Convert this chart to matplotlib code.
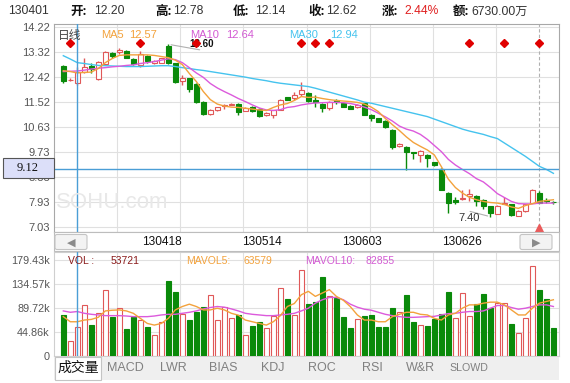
import matplotlib
matplotlib.use('Agg')
import matplotlib.pyplot as plt
import matplotlib.patches as mpatches
import matplotlib.transforms as mtransforms
import numpy as np

plt.rcParams['font.family'] = ['Liberation Sans', 'Noto Sans CJK SC', 'DejaVu Sans']

# ---------------- data ----------------
opens = [12.83, 12.30, 12.20, 12.60, 12.83, 12.34, 12.90, 13.28, 13.33, 13.36,
         13.08, 12.86, 13.18, 12.92, 12.94, 13.55, 12.92, 12.29, 12.38, 12.18,
         11.54, 11.09, 11.22, 11.38, 11.43, 11.47, 11.21, 11.35, 11.28, 11.06,
         11.04, 11.24, 11.70, 11.66, 11.80, 11.84, 11.60, 11.46, 11.30, 11.60,
         11.50, 11.39, 11.33, 11.48, 11.07, 10.94, 10.85, 10.52, 9.95, 9.91,
         9.72, 9.63, 9.63, 9.36, 9.12, 8.27, 8.01, 8.03, 8.13, 8.15,
         8.01, 7.77, 7.50, 7.86, 7.84, 7.44, 7.59, 7.91, 8.27, 8.00, 7.94]
highs = [12.85, 12.38, 12.78, 13.09, 12.92, 13.00, 13.36, 13.34, 13.46, 13.38,
         13.12, 13.37, 13.20, 13.02, 13.12, 13.60, 12.94, 12.50, 12.40, 12.20,
         11.56, 11.26, 11.36, 11.45, 11.50, 11.50, 11.33, 11.37, 11.30, 11.16,
         11.25, 11.65, 11.72, 11.90, 12.26, 11.88, 11.78, 11.48, 11.55, 11.63,
         11.52, 11.41, 11.44, 11.50, 11.09, 10.96, 10.87, 10.54, 10.06, 9.93,
         9.74, 9.79, 9.65, 9.38, 9.14, 8.29, 8.12, 8.37, 8.40, 8.17,
         8.03, 7.80, 7.82, 8.10, 7.86, 7.63, 7.87, 8.40, 8.32, 8.06, 7.96]
lows = [12.22, 12.28, 12.14, 12.58, 12.56, 12.30, 12.88, 13.09, 13.26, 13.09,
        12.86, 12.80, 12.92, 12.88, 12.92, 12.90, 12.20, 12.14, 11.90, 11.48,
        11.06, 11.07, 11.20, 11.26, 11.42, 11.06, 11.19, 11.15, 11.00, 11.03,
        10.95, 11.22, 11.58, 11.60, 11.74, 11.52, 11.33, 11.16, 11.23, 11.47,
        11.33, 11.26, 11.31, 11.04, 10.85, 10.79, 10.60, 9.85, 9.91, 9.09,
        9.48, 9.38, 9.20, 9.24, 8.35, 7.55, 7.87, 8.00, 7.95, 7.80,
        7.68, 7.40, 7.48, 7.84, 7.44, 7.42, 7.57, 7.89, 7.89, 7.90, 7.85]
closes = [12.29, 12.32, 12.62, 12.77, 12.70, 12.98, 13.31, 13.18, 13.38, 13.12,
          12.90, 13.26, 13.01, 13.00, 13.10, 12.92, 12.26, 12.40, 11.98, 11.52,
          11.09, 11.22, 11.34, 11.43, 11.47, 11.16, 11.31, 11.21, 11.03, 11.12,
          11.22, 11.60, 11.60, 11.78, 11.96, 11.56, 11.52, 11.30, 11.52, 11.52,
          11.35, 11.28, 11.42, 11.06, 10.96, 10.81, 10.62, 9.90, 10.01, 9.72,
          9.68, 9.77, 9.50, 9.27, 8.37, 7.91, 7.92, 8.06, 8.21, 7.97,
          7.80, 7.55, 7.80, 7.91, 7.45, 7.61, 7.85, 8.37, 7.91, 7.95, 7.92]
ma5 = [12.65, 12.62, 12.57, 12.59, 12.60, 12.73, 12.94, 13.09, 13.20, 13.22,
       13.22, 13.22, 13.22, 13.20, 13.16, 13.12, 13.03, 12.87, 12.55, 12.26,
       11.90, 11.61, 11.45, 11.38, 11.34, 11.33, 11.30, 11.27, 11.24, 11.22,
       11.33, 11.42, 11.47, 11.58, 11.72, 11.69, 11.70, 11.65, 11.61, 11.58,
       11.56, 11.54, 11.51, 11.45, 11.34, 11.18, 10.93, 10.71, 10.50, 10.27,
       10.07, 9.93, 9.80, 9.62, 9.20, 8.75, 8.45, 8.25, 8.10, 8.01,
       7.95, 7.91, 7.89, 7.84, 7.75, 7.70, 7.80, 7.87, 7.95, 7.98, 8.01]
ma10 = [12.62, 12.63, 12.64, 12.67, 12.71, 12.74, 12.76, 12.79, 12.81, 12.84,
        12.86, 12.91, 12.94, 12.98, 13.03, 13.08, 13.05, 12.94, 12.76, 12.57,
        12.41, 12.19, 12.03, 11.90, 11.78, 11.65, 11.54, 11.42, 11.31, 11.24,
        11.22, 11.25, 11.33, 11.36, 11.42, 11.46, 11.49, 11.50, 11.51, 11.51,
        11.50, 11.47, 11.42, 11.34, 11.25, 11.12, 10.99, 10.84, 10.66, 10.55,
        10.48, 10.36, 10.18, 9.96, 9.74, 9.46, 9.26, 9.10, 8.95, 8.77,
        8.65, 8.45, 8.23, 8.09, 7.95, 7.87, 7.86, 7.86, 7.89, 7.89, 7.89]
ma30 = [13.19, 13.07, 12.94, 12.91, 12.87, 12.84, 12.83, 12.82, 12.81, 12.80,
        12.80, 12.80, 12.81, 12.82, 12.83, 12.83, 12.80, 12.76, 12.73, 12.69,
        12.66, 12.62, 12.58, 12.54, 12.50, 12.46, 12.42, 12.37, 12.33, 12.29,
        12.24, 12.20, 12.17, 12.14, 12.11, 12.08, 12.02, 11.95, 11.88, 11.81,
        11.74, 11.67, 11.60, 11.52, 11.48, 11.42, 11.36, 11.30, 11.24, 11.18,
        11.12, 11.06, 11.00, 10.91, 10.82, 10.73, 10.64, 10.55, 10.48, 10.42,
        10.36, 10.28, 10.21, 10.05, 9.89, 9.73, 9.57, 9.39, 9.21, 9.10, 8.96]
volumes = [76.4, 28.0, 53.721, 95.4, 57.0, 79.5, 124.0, 72.5, 89.0, 49.6,
           72.5, 66.8, 54.0, 38.0, 64.0, 141.0, 120.0, 78.0, 66.8, 82.0,
           91.0, 114.0, 66.8, 91.0, 70.6, 76.4, 39.5, 55.4, 64.0, 51.5,
           73.8, 127.0, 107.0, 76.4, 162.0, 97.0, 101.0, 147.0, 112.6, 109.0,
           72.5, 51.5, 68.7, 74.4, 76.4, 53.4, 53.4, 89.7, 82.0, 114.5,
           63.0, 57.0, 55.4, 68.7, 78.0, 120.0, 70.6, 118.0, 74.4, 97.0,
           116.0, 89.7, 98.6, 98.6, 59.0, 43.3, 70.6, 169.0, 124.0, 107.0, 51.5]
vol_up = [0, 1, 1, 1, 0, 1, 1, 0, 1, 0,
          0, 1, 0, 1, 1, 0, 0, 1, 0, 0,
          0, 1, 1, 1, 1, 0, 1, 0, 0, 1,
          1, 1, 0, 1, 1, 0, 0, 0, 1, 0,
          0, 0, 1, 0, 0, 0, 0, 0, 1, 0,
          0, 1, 0, 0, 0, 0, 1, 1, 1, 0,
          0, 0, 1, 1, 0, 1, 1, 1, 0, 0, 0]
mavol5 = [73.2, 63.6, 63.579, 66.8, 68.0, 72.0, 84.0, 85.3, 85.9, 84.0,
          79.5, 70.0, 60.4, 57.3, 60.4, 70.0, 85.9, 92.3, 96.7, 92.3,
          85.9, 85.9, 89.1, 85.9, 79.5, 76.0, 66.8, 63.6, 60.4, 57.3,
          63.6, 75.1, 92.3, 98.0, 114.5, 120.9, 111.4, 117.7, 124.1, 111.4,
          104.0, 92.0, 76.4, 66.8, 66.8, 63.6, 63.6, 73.2, 77.6, 81.4,
          81.4, 77.6, 76.4, 70.0, 66.8, 76.4, 79.5, 89.1, 95.4, 95.4,
          98.6, 100.5, 100.5, 95.4, 85.9, 76.4, 76.4, 89.1, 98.6, 101.8, 105.0]
mavol10 = [84.0, 81.4, 82.855, 79.5, 77.6, 76.4, 75.1, 75.1, 75.1, 74.4,
           73.2, 73.2, 73.2, 74.4, 76.4, 77.6, 77.6, 79.5, 81.4, 84.0,
           87.8, 90.4, 92.3, 91.0, 87.8, 84.0, 79.5, 77.6, 76.4, 75.1,
           75.1, 76.4, 77.6, 79.5, 84.0, 89.1, 98.6, 105.0, 109.4, 109.4,
           105.0, 96.7, 91.0, 87.2, 85.3, 81.4, 77.6, 75.1, 73.2, 71.9,
           71.9, 72.5, 73.2, 73.8, 76.4, 78.9, 79.5, 81.4, 82.86, 82.86,
           84.0, 89.1, 94.2, 94.2, 90.4, 87.2, 89.1, 92.3, 95.4, 95.4, 92.3]

price_ticks = [7.03, 7.93, 8.83, 9.73, 10.63, 11.52, 12.42, 13.32, 14.22]
vol_ticks = [0, 44.86, 89.72, 134.57, 179.43]
vol_tick_labels = ['0', '44.86k', '89.72k', '134.57k', '179.43k']
date_labels = ['130418', '130514', '130603', '130626']
signal_idx = [1, 11, 19, 34, 36, 38, 58, 63, 68]
cursor_idx = 2
cursor_price = 9.12
max_idx, max_label = 15, '13.60'
min_idx, min_label = 61, '7.40'
last_idx = 68
tabs = ['成交量', 'MACD', 'LWR', 'BIAS', 'KDJ', 'ROC', 'RSI', 'W&R', 'SLOWD']
header = [('130401', None), ('开:', '12.20'), ('高:', '12.78'), ('低:', '12.14'),
          ('收:', '12.62'), ('涨:', '2.44%'), ('额:', '6730.00万')]

# ---------------- style ----------------
W, H = 570, 383
RED = '#e05858'
GREEN = '#0a8a0a'
ORANGE = '#f3a23c'
MAGENTA = '#dc5adc'
CYAN = '#45c3ee'
BLUE = '#4a9ed6'
GRID = '#e0e0e0'

fig = plt.figure(figsize=(5.7, 3.83), dpi=100)
fig.patch.set_facecolor('white')


def fr(x0, y0, x1, y1):
    return [x0 / W, 1 - y1 / H, (x1 - x0) / W, (y1 - y0) / H]


ax = fig.add_axes(fr(54, 24, 559, 232))
axv = fig.add_axes(fr(54, 252, 559, 355.5))
deco = fig.add_axes([0, 0, 1, 1], zorder=10)
deco.set_xlim(0, W)
deco.set_ylim(H, 0)
deco.axis('off')
deco.patch.set_alpha(0)

n = len(closes)
x = np.arange(n)
XL = (-1.33, 70.8)
o = np.array(opens)
c = np.array(closes)
up = c >= o
cols = [RED if u else GREEN for u in up]
faces = ['white' if u else GREEN for u in up]

# ---------------- price panel ----------------
ax.set_xlim(*XL)
ax.set_ylim(6.85, 14.33)
for k in range(1, 8):
    ax.axvline(XL[0] + k * (XL[1] - XL[0]) / 8, color=GRID, lw=0.8, zorder=0)
for t in price_ticks:
    ax.axhline(t, color=GRID, lw=0.8, zorder=0)

ax.vlines(x, lows, highs, colors=cols, linewidth=1.0, zorder=3)
ax.bar(x, np.maximum(np.abs(c - o), 0.02), bottom=np.minimum(o, c), width=0.7,
       color=faces, edgecolor=cols, linewidth=0.8, zorder=4)

ax.plot(x, ma30, color=CYAN, lw=1.0, zorder=5)
ax.plot(x, ma10, color=MAGENTA, lw=1.0, zorder=5)
ax.plot(x, ma5, color=ORANGE, lw=1.0, zorder=5)

trans = mtransforms.blended_transform_factory(ax.transData, ax.transAxes)
ax.axvline(last_idx, color='#b0b0b0', lw=0.8, ls=(0, (3, 2)), zorder=2)
ax.plot([last_idx], [0.02], marker='^', color='#ea5a5a', ms=6, transform=trans,
        clip_on=False, zorder=8)
ax.plot(signal_idx, [0.91] * len(signal_idx), 'D', color='#e00000', ms=4.3,
        transform=trans, zorder=9)

ax.axvline(cursor_idx, color=BLUE, lw=1.0, zorder=7)
ax.axhline(cursor_price, color=BLUE, lw=1.0, zorder=7)

# max / min markers
ax.annotate('', xy=(max_idx, highs[max_idx]), xytext=(34, -6), textcoords='offset pixels',
            arrowprops=dict(arrowstyle='-', color='#b0b0b0', lw=0.8), zorder=6)
ax.annotate(max_label, xy=(max_idx, highs[max_idx]), xytext=(33, 0), textcoords='offset pixels',
            ha='center', va='center', fontsize=7, fontweight='bold', color='#111', zorder=8)
ax.annotate('', xy=(min_idx, lows[min_idx]), xytext=(-23, 6), textcoords='offset pixels',
            arrowprops=dict(arrowstyle='-', color='#b0b0b0', lw=0.8), zorder=6)
ax.annotate(min_label, xy=(min_idx, lows[min_idx]), xytext=(-21, -1), textcoords='offset pixels',
            ha='center', va='center', fontsize=8, color='#333', zorder=8)

ax.set_xticks([])
ax.set_yticks(price_ticks)
ax.set_yticklabels([f'{t:.2f}' for t in price_ticks], fontsize=8, color='#555')
ax.tick_params(axis='y', length=0, pad=3)
for s in ax.spines.values():
    s.set_color('#a8a8a8')
    s.set_linewidth(0.8)

# ---------------- volume panel ----------------
vu = np.array(vol_up, dtype=bool)
axv.set_xlim(*XL)
axv.set_ylim(0, 195)
for k in range(1, 8):
    axv.axvline(XL[0] + k * (XL[1] - XL[0]) / 8, color=GRID, lw=0.8, zorder=0)
for t in vol_ticks[1:]:
    axv.axhline(t, color=GRID, lw=0.8, zorder=0)
axv.bar(x, volumes, width=0.7, color=['white' if u else GREEN for u in vu],
        edgecolor=[RED if u else GREEN for u in vu], linewidth=0.8, zorder=3)
axv.plot(x, mavol10, color=MAGENTA, lw=1.0, zorder=4)
axv.plot(x, mavol5, color=ORANGE, lw=1.0, zorder=4)
axv.axvline(cursor_idx, color=BLUE, lw=1.0, zorder=5)
axv.set_xticks([])
axv.set_yticks(vol_ticks)
axv.set_yticklabels(vol_tick_labels, fontsize=7.8, color='#555')
axv.tick_params(axis='y', length=0, pad=3)
for s in axv.spines.values():
    s.set_color('#cfcfcf')
    s.set_linewidth(0.8)

# ---------------- decorations ----------------
# header
hx = [(8, None), (70, 94), (155, 173), (232.5, 255.5), (308.5, 326.5), (381.5, 404), (453, 471)]
for (lab, val), (xl, xv) in zip(header, hx):
    if val is None:
        deco.text(xl, 11.5, lab, fontsize=8.7, color='#333', va='center', ha='left')
    else:
        deco.text(xl, 11.5, lab, fontsize=9, color='#111', va='center', ha='left',
                  fontweight='bold', family=['Noto Sans CJK SC', 'DejaVu Sans'])
        deco.text(xv, 11.5, val, fontsize=8.7, va='center', ha='left',
                  color='#e02020' if '%' in val else '#333',
                  family=['Liberation Sans', 'Noto Sans CJK SC'])

# price-panel legend
deco.text(58, 35, '日线', fontsize=8.5, color='#444', va='center', ha='left',
          family=['Noto Sans CJK SC', 'DejaVu Sans'])
for lab, val, xl, xv, col in [('MA5', f'{ma5[cursor_idx]:.2f}', 101, 129.5, ORANGE),
                              ('MA10', f'{ma10[cursor_idx]:.2f}', 190, 226.5, '#d35bd3'),
                              ('MA30', f'{ma30[cursor_idx]:.2f}', 289.5, 330.5, CYAN)]:
    deco.text(xl, 35, lab, fontsize=8, color=col, va='center', ha='left')
    deco.text(xv, 35, val, fontsize=8, color=col, va='center', ha='left')

# watermark
deco.text(56, 203, 'SOHU.com', fontsize=16, color='#e8e8e8', va='center', ha='left', zorder=-1)

# crosshair price box
deco.add_patch(mpatches.Rectangle((3, 157.5), 51, 20, facecolor='#dcdff9', edgecolor='#555', lw=0.8))
deco.text(27.5, 167.8, f'{cursor_price:.2f}', fontsize=9, family='Liberation Serif',
          color='#111', ha='center', va='center')

# date strip
deco.add_patch(mpatches.Rectangle((54, 232), 505, 19, facecolor='white', edgecolor='#bdbdbd', lw=0.8))
for lab, xc in zip(date_labels, [162, 262, 362, 462]):
    deco.text(xc, 242, lab, fontsize=8.6, color='#111', ha='center', va='center')
for x0, sym in [(55, '◀'), (520, '▶')]:
    deco.add_patch(mpatches.FancyBboxPatch((x0, 234.5), 32, 15, boxstyle='round,pad=0,rounding_size=2',
                                           facecolor='#f3f3f3', edgecolor='#c4c4c4', lw=0.8))
    deco.text(x0 + 16, 242.2, sym, fontsize=8, color='#8a8a8a', ha='center', va='center',
              family='DejaVu Sans')

# volume legend
for lab, xl, col in [('VOL :', 67.5, '#8b1c1c'), (f'{round(volumes[cursor_idx] * 1000)}', 111, '#8b1c1c'),
                     ('MAVOL5:', 186.5, ORANGE), (f'{round(mavol5[cursor_idx] * 1000)}', 243.5, ORANGE),
                     ('MAVOL10:', 305, '#d35bd3'), (f'{round(mavol10[cursor_idx] * 1000)}', 366, '#d35bd3')]:
    deco.text(xl, 261.5, lab, fontsize=7.5, color=col, ha='left', va='center')

# tab bar
deco.add_patch(mpatches.Rectangle((54, 357), 505, 23, facecolor='#efefef', edgecolor='none'))
deco.add_patch(mpatches.Rectangle((55, 357), 46, 23, facecolor='white', edgecolor='#c4c4c4', lw=0.8))
for lab, xc in zip(tabs, [78, 125, 173, 223, 273, 322, 372, 420, 469]):
    if lab == '成交量':
        deco.text(xc, 368, lab, fontsize=10, color='#111', ha='center', va='center',
                  family=['Noto Sans CJK SC', 'DejaVu Sans'])
    else:
        deco.text(xc, 368, lab, fontsize=7.7 if lab == 'SLOWD' else 9, color='#808080',
                  ha='center', va='center')

fig.savefig('out.png', dpi=100, facecolor='white')
